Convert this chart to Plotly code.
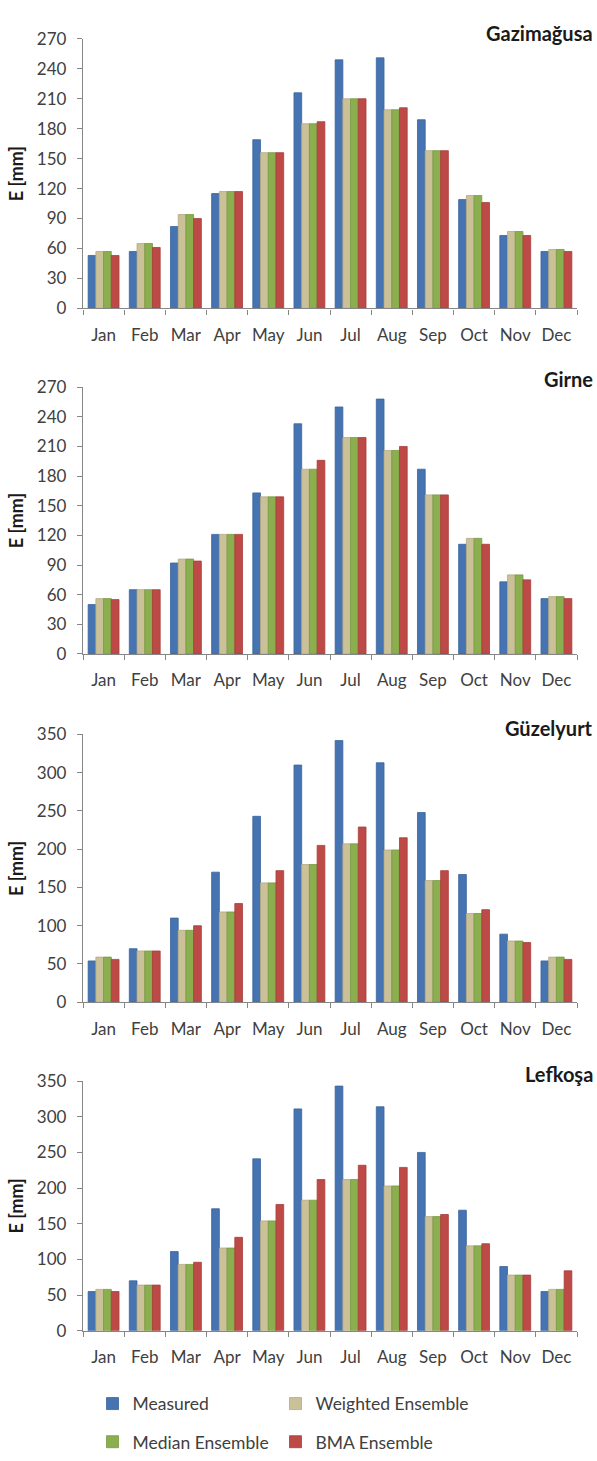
import plotly.graph_objects as go

months = ["Jan", "Feb", "Mar", "Apr", "May", "Jun", "Jul", "Aug", "Sep", "Oct", "Nov", "Dec"]
series_names = ["Measured", "Weighted Ensemble", "Median Ensemble", "BMA Ensemble"]
stations = ["Gazimağusa", "Girne", "Güzelyurt", "Lefkoşa"]

gaz_measured = [53, 57, 82, 115, 169, 216, 249, 251, 189, 109, 73, 57]
gaz_weighted = [57, 65, 94, 117, 156, 185, 210, 199, 158, 113, 77, 59]
gaz_median = [57, 65, 94, 117, 156, 185, 210, 199, 158, 113, 77, 59]
gaz_bma = [53, 61, 90, 117, 156, 187, 210, 201, 158, 106, 73, 57]

gir_measured = [50, 65, 92, 121, 163, 233, 250, 258, 187, 111, 73, 56]
gir_weighted = [56, 65, 96, 121, 159, 187, 219, 206, 161, 117, 80, 58]
gir_median = [56, 65, 96, 121, 159, 187, 219, 206, 161, 117, 80, 58]
gir_bma = [55, 65, 94, 121, 159, 196, 219, 210, 161, 111, 75, 56]

guz_measured = [54, 70, 110, 170, 243, 310, 342, 313, 248, 167, 89, 54]
guz_weighted = [59, 67, 94, 118, 156, 180, 207, 199, 159, 116, 80, 59]
guz_median = [59, 67, 94, 118, 156, 180, 207, 199, 159, 116, 80, 59]
guz_bma = [56, 67, 100, 129, 172, 205, 229, 215, 172, 121, 78, 56]

lef_measured = [55, 70, 111, 171, 241, 311, 343, 314, 250, 169, 90, 55]
lef_weighted = [58, 64, 93, 116, 154, 183, 212, 203, 160, 119, 78, 58]
lef_median = [58, 64, 93, 116, 154, 183, 212, 203, 160, 119, 78, 58]
lef_bma = [55, 64, 96, 131, 177, 212, 232, 229, 163, 122, 78, 84]

y_max = [270, 270, 350, 350]
y_dtick = [30, 30, 50, 50]

panels = [
    [gaz_measured, gaz_weighted, gaz_median, gaz_bma],
    [gir_measured, gir_weighted, gir_median, gir_bma],
    [guz_measured, guz_weighted, guz_median, guz_bma],
    [lef_measured, lef_weighted, lef_median, lef_bma],
]

fills = ["#4674B2", "#CBC198", "#8BAF4E", "#BE4A47"]
edges = ["#3A639C", "#B3A983", "#76993F", "#A63D3A"]

H = 1461.0
W = 597
ML, MR = 83, 20
PW = W - ML - MR
# plot areas in pixels (top, bottom)
px_rows = [(28.3, 301.7), (381.7, 652.3), (734.0, 1005.7), (1085.7, 1339.0)]
title_y_px = [22, 373, 727, 1078]

FONT = "Lato, 'Open Sans', sans-serif"
AX = "#868686"
legend_ids = ["legend", "legend2", "legend3", "legend4"]
# legend item text start (x px) and row centre (y px)
legend_pos = [(132.5, 1413.0), (315.5, 1413.0), (132.5, 1451.7), (315.5, 1451.7)]

fig = go.Figure()
for p, data in enumerate(panels):
    xa = "x" if p == 0 else f"x{p+1}"
    ya = "y" if p == 0 else f"y{p+1}"
    for s, vals in enumerate(data):
        fig.add_trace(go.Bar(
            x=months, y=vals, name=series_names[s],
            xaxis=xa, yaxis=ya,
            marker=dict(color=fills[s], line=dict(color=edges[s], width=0.8)),
            legendgroup=series_names[s],
            showlegend=(p == 0),
            legend=legend_ids[s],
        ))

layout = dict(
    width=W, height=int(H),
    margin=dict(l=ML, r=MR, t=0, b=0),
    paper_bgcolor="white", plot_bgcolor="white",
    barmode="group", bargap=0.25, bargroupgap=0,
    font=dict(family=FONT, size=16, color="#404040"),
    annotations=[],
)

for p in range(4):
    top, bot = px_rows[p]
    xk = "xaxis" if p == 0 else f"xaxis{p+1}"
    yk = "yaxis" if p == 0 else f"yaxis{p+1}"
    ya = "y" if p == 0 else f"y{p+1}"
    xa = "x" if p == 0 else f"x{p+1}"
    layout[xk] = dict(
        domain=[0, 1], anchor=ya, type="category",
        showline=True, linecolor=AX, linewidth=1.3,
        ticks="outside", tickson="boundaries", ticklen=5, tickcolor=AX, tickwidth=1.3,
        tickfont=dict(family=FONT, size=17, color="#404040"),
        tickangle=0, ticklabelstandoff=11,
        showgrid=False, zeroline=False, fixedrange=True,
    )
    layout[yk] = dict(
        domain=[1 - bot / H, 1 - top / H], anchor=xa,
        range=[0, y_max[p]], dtick=y_dtick[p], tick0=0,
        showline=True, linecolor=AX, linewidth=1.3,
        ticks="outside", ticklen=5, tickcolor=AX, tickwidth=1.3,
        tickfont=dict(family=FONT, size=17, color="#404040"),
        ticklabelstandoff=7,
        showgrid=False, zeroline=False, fixedrange=True,
        title=dict(text="<b>E [mm]</b>", font=dict(family=FONT, size=18, color="#1a1a1a"), standoff=8),
    )
    layout["annotations"].append(dict(
        text=f"<b>{stations[p]}</b>", xref="paper", yref="paper",
        x=(595 - ML) / PW, y=1 - title_y_px[p] / H,
        xanchor="right", yanchor="middle", showarrow=False,
        font=dict(family=FONT, size=20, color="#1a1a1a"),
    ))

for lid, (tx, ty) in zip(legend_ids, legend_pos):
    layout[lid] = dict(
        orientation="h", xanchor="left", yanchor="middle",
        x=(tx - 40 - ML) / PW, y=1 - ty / H,
        font=dict(family=FONT, size=17.5, color="#404040"),
        bgcolor="rgba(0,0,0,0)", borderwidth=0,
        itemclick=False, itemdoubleclick=False,
    )

fig.update_layout(**layout)
fig.write_html("out.html")
